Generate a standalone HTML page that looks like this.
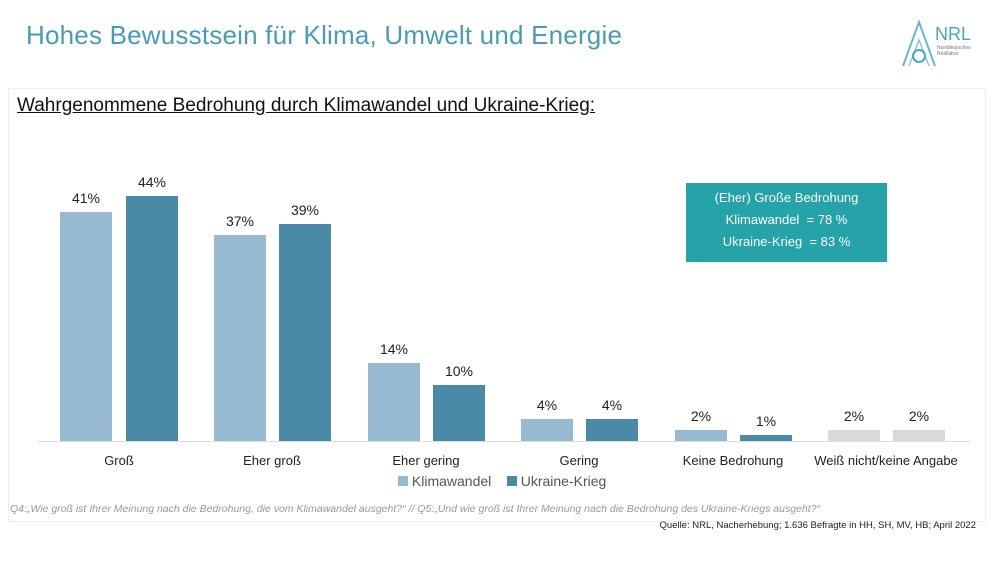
<!DOCTYPE html><html><head><style>
body{margin:0;width:1000px;height:563px;background:#fff;font-family:"Liberation Sans",sans-serif;position:relative;overflow:hidden}
.a{position:absolute}
.b{position:absolute;width:52px}
.l{background:#97bad0}.d{background:#4a8aa6}.g{background:#d9d9d9}
.v{position:absolute;width:60px;text-align:center;font-size:14px;color:#222}
.c{position:absolute;width:150px;text-align:center;font-size:13px;color:#222}
</style></head><body>
<div class="a" style="left:26px;top:20px;font-size:26px;color:#4a9bb5;letter-spacing:0.2px">Hohes Bewusstsein für Klima, Umwelt und Energie</div>
<svg class="a" style="left:895px;top:18px" width="90" height="50"><path d="M8 48 L24 4 L40 48" fill="none" stroke="#6ab8c8" stroke-width="2"/><path d="M14 48 L24 22 L34 48" fill="none" stroke="#8cc8d5" stroke-width="1.5"/><circle cx="24" cy="38" r="6" fill="none" stroke="#4aa6b8" stroke-width="2"/><text x="40" y="22" font-size="18" fill="#4aa6b8" font-family="Liberation Sans">NRL</text><text x="42" y="31" font-size="5" fill="#777">Norddeutsches</text><text x="42" y="37" font-size="5" fill="#777">Reallabor</text></svg>
<div class="a" style="left:8px;top:88px;width:976px;height:432px;border:1px solid #eee"></div>
<div class="a" style="left:17px;top:95px;font-size:19px;color:#111;text-decoration:underline">Wahrgenommene Bedrohung durch Klimawandel und Ukraine-Krieg:</div>
<div class="a" style="left:38px;top:441px;width:932px;height:1px;background:#ddd"></div>
<div class="b l" style="left:60px;top:212px;height:229px"></div><div class="b d" style="left:126px;top:196px;height:245px"></div>
<div class="b l" style="left:214px;top:235px;height:206px"></div><div class="b d" style="left:279px;top:224px;height:217px"></div>
<div class="b l" style="left:368px;top:363px;height:78px"></div><div class="b d" style="left:433px;top:385px;height:56px"></div>
<div class="b l" style="left:521px;top:419px;height:22px"></div><div class="b d" style="left:586px;top:419px;height:22px"></div>
<div class="b l" style="left:675px;top:430px;height:11px"></div><div class="b d" style="left:740px;top:435px;height:6px"></div>
<div class="b g" style="left:828px;top:430px;height:11px"></div><div class="b g" style="left:893px;top:430px;height:11px"></div>
<div class="v" style="left:56px;top:190px">41%</div><div class="v" style="left:122px;top:174px">44%</div>
<div class="v" style="left:210px;top:213px">37%</div><div class="v" style="left:275px;top:202px">39%</div>
<div class="v" style="left:364px;top:341px">14%</div><div class="v" style="left:429px;top:363px">10%</div>
<div class="v" style="left:517px;top:397px">4%</div><div class="v" style="left:582px;top:397px">4%</div>
<div class="v" style="left:671px;top:408px">2%</div><div class="v" style="left:736px;top:413px">1%</div>
<div class="v" style="left:824px;top:408px">2%</div><div class="v" style="left:889px;top:408px">2%</div>
<div class="c" style="left:44px;top:453px">Groß</div><div class="c" style="left:197px;top:453px">Eher groß</div>
<div class="c" style="left:351px;top:453px">Eher gering</div><div class="c" style="left:504px;top:453px">Gering</div>
<div class="c" style="left:658px;top:453px">Keine Bedrohung</div><div class="c" style="left:811px;top:453px">Weiß nicht/keine Angabe</div>
<div class="a" style="left:398px;top:473px;font-size:14px;color:#555"><span style="display:inline-block;width:10px;height:10px;background:#97bad0"></span> Klimawandel &nbsp;&nbsp;&nbsp;<span style="display:inline-block;width:10px;height:10px;background:#4a8aa6"></span> Ukraine-Krieg</div>
<div class="a" style="left:686px;top:183px;width:201px;height:79px;background:#26a3a8;color:#fff;font-size:13px;text-align:center;line-height:22px;padding-top:4px;box-sizing:border-box">(Eher) Große Bedrohung<br>Klimawandel &nbsp;= 78 %<br>Ukraine-Krieg &nbsp;= 83 %</div>
<div class="a" style="left:10px;top:503px;font-size:10.5px;font-style:italic;color:#999;white-space:nowrap">Q4:„Wie groß ist Ihrer Meinung nach die Bedrohung, die vom Klimawandel ausgeht?“ // Q5:„Und wie groß ist Ihrer Meinung nach die Bedrohung des Ukraine-Kriegs ausgeht?“</div>
<div class="a" style="right:24px;top:520px;font-size:9.5px;color:#222">Quelle: NRL, Nacherhebung; 1.636 Befragte in HH, SH, MV, HB; April 2022</div>
</body></html>
